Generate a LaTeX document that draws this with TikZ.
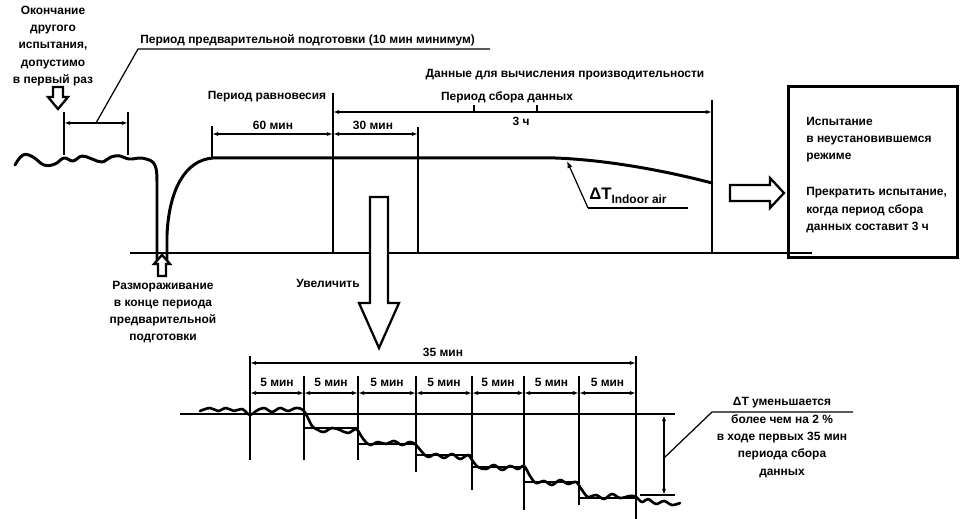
\documentclass[tikz,border=0pt]{standalone}
\usepackage{fontspec}
\setmainfont{Liberation Sans}
\usetikzlibrary{arrows.meta, positioning, calc}

\tikzset{
  curve/.style={line width=1.7pt, line join=round, line cap=round},
  aux/.style={line width=1.1pt},
  fine/.style={line width=0.7pt},
  dimarrow/.style={line width=0.7pt, {Latex[length=3.5pt,width=2.4pt]}-{Latex[length=3.5pt,width=2.4pt]}},
  lbl/.style={font=\fontsize{6.8}{8.4}\selectfont\bfseries, inner sep=0pt, align=center},
  hollow/.style={line width=1.3pt, fill=white, line join=miter}
}

\begin{document}
\begin{tikzpicture}[x=0.02cm, y=-0.02cm]
  \useasboundingbox (0,0) rectangle (968,519);

  % Верхний график
  \coordinate (base0) at (130,253);
  \coordinate (base1) at (812,253);
  \draw[aux] (base0) -- (base1);
  \draw[curve] plot[smooth, tension=0.7] coordinates {(15,165) (23,155) (33,157) (44,165) (55,164) (64,158) (73,161) (82,156) (92,159) (102,162) (111,157) (120,156) (129,159) (140,158) (146,159)}
    .. controls (156,161) and (157,168) .. (157,182) -- (157,262);
  \draw[curve] (167,262) -- (167,235) .. controls (169,190) and (185,160) .. (213,158)
    -- (555,158) .. controls (610,160) and (670,172) .. (712,183);

  % Вертикали
  \coordinate (pre0) at (64,123);
  \coordinate (pre1) at (128,123);
  \coordinate (eq0) at (212,134);
  \coordinate (dc0) at (333,134);
  \coordinate (dc1) at (418,134);
  \coordinate (dcA) at (333,112);
  \coordinate (dcB) at (712,112);
  \draw[aux] (64,112) -- (64,155);
  \draw[aux] (128,112) -- (128,155);
  \draw[aux] (212,126) -- (212,158);
  \draw[aux] (333,93) -- (333,253);
  \draw[aux] (418,127) -- (418,253);
  \draw[aux] (712,100) -- (712,253);

  % Размеры
  \draw[dimarrow] (pre0) -- (pre1);
  \draw[dimarrow] (eq0) -- (dc0);
  \draw[dimarrow] (dc0) -- (dc1);
  \draw[dimarrow] (dcA) -- (dcB);
  \draw[fine] (474,105) -- (474,112);
  \draw[fine] (537,105) -- (537,112);

  % Подписи
  \node[lbl] (start) at (53,46) {Окончание\\[1.4pt]другого\\[1.4pt]испытания,\\[1.4pt]допустимо\\[1.4pt]в первый раз};
  \draw[hollow] (53,87) -- (63,87) -- (63,97) -- (68,97) -- (58,109) -- (48,97) -- (53,97) -- cycle;
  \node[lbl, anchor=south west] (precond) at (140,46) {Период предварительной подготовки (10 мин минимум)};
  \coordinate (precondA) at (138,49);
  \coordinate (precondB) at (490,49);
  \draw[fine] ($(pre0)!0.5!(pre1)$) -- (precondA) -- (precondB);
  \node[lbl] (calc) at (565,75) {Данные для вычисления производительности};
  \node[lbl] (equil) at (267,97) {Период равновесия};
  \node[lbl] (collect) at (507,97) {Период сбора данных};
  \node[lbl] (t3h) at (521,121) {3 ч};
  \node[lbl] (t60) at (273,125) {60 мин};
  \node[lbl] (t30) at (373,125) {30 мин};

  % ΔT
  \coordinate (dTtip) at (567,161);
  \coordinate (dTa) at (588,208);
  \coordinate (dTb) at (688,208);
  \draw[fine, -{Latex[length=4pt,width=3pt]}] (dTa) -- (dTtip);
  \draw[fine] (dTa) -- (dTb);
  \node[font=\fontsize{9.5}{10}\selectfont\bfseries, anchor=south west, inner sep=0pt] (dT) at (589,204) {ΔT\raisebox{-2.5pt}{\fontsize{6.8}{8}\selectfont Indoor air}};

  % Разморозка
  \draw[hollow] (162,255) -- (170,264) -- (166,264) -- (166,276) -- (158,276) -- (158,264) -- (154,264) -- cycle;
  \node[lbl] (defrost) at (163,312) {Размораживание\\[1.4pt]в конце периода\\[1.4pt]предварительной\\[1.4pt]подготовки};

  % Правая рамка
  \draw[hollow] (730,185) -- (770,185) -- (770,178) -- (784,193) -- (770,208) -- (770,201) -- (730,201) -- cycle;
  \node[draw, line width=1.7pt, minimum width=3.4cm, minimum height=3.44cm, inner sep=0pt] (result) at (873,172) {};
  \node[lbl, align=left, anchor=north west] (resulttxt) at (806,117) {Испытание\\[1.4pt]в неустановившемся\\[1.4pt]режиме\\[12pt]Прекратить испытание,\\[1.4pt]когда период сбора\\[1.4pt]данных составит 3 ч};

  % Увеличение
  \node[lbl] (zoom) at (328,283) {Увеличить};
  \draw[hollow] (370,197) -- (388,197) -- (388,303) -- (399,303) -- (379,348) -- (359,303) -- (370,303) -- cycle;

  % Нижний график
  \draw[aux] (180,414) -- (675,414);
  \foreach \x/\ya/\yb in {250/356/460, 304/376/460, 358/376/460, 416/376/472, 472/376/490, 524/376/510, 579/376/505, 636/356/519}
    \draw[aux] (\x,\ya) -- (\x,\yb);
  \coordinate (z0) at (250,363);
  \coordinate (z1) at (636,363);
  \draw[dimarrow] (z0) -- (z1);
  \node[lbl] (t35) at (443,352) {35 мин};
  \foreach \xa/\xb in {250/304, 304/358, 358/416, 416/472, 472/524, 524/579, 579/636} {
    \draw[dimarrow] (\xa,393) -- (\xb,393);
    \node[lbl] at ({(\xa+\xb)/2},382) {5 мин};
  }
  % Средние по интервалам
  \foreach \xa/\xb/\y in {304/358/428, 358/416/444, 416/472/455, 472/524/467, 524/579/482, 579/636/498}
    \draw[fine] (\xa,\y) -- (\xb,\y);
  \draw[curve, line width=1.5pt] plot[smooth, tension=0.6] coordinates {(200,411) (210,408) (218,411) (226,408) (234,411) (242,409) (250,415) (256,411) (264,408) (272,412) (280,408) (288,411) (296,408) (303,410)
    (308,418) (312,426) (318,430) (324,432) (332,428) (340,430) (348,433) (356,429)
    (360,434) (364,440) (370,445) (378,442) (386,444) (394,441) (402,445) (410,442) (416,445)
    (422,452) (428,457) (436,454) (444,458) (452,454) (460,459) (468,455) (472,460)
    (478,467) (486,469) (494,465) (502,470) (510,466) (518,469) (524,466)
    (530,476) (536,483) (544,481) (552,485) (560,480) (568,484) (576,482)
    (582,490) (588,497) (596,495) (604,499) (612,494) (620,498) (630,496) (636,497)
    (642,502) (648,499) (656,504) (664,501) (672,505) (680,503)};

  % ΔT уменьшается
  \coordinate (dz0) at (664,415);
  \coordinate (dz1) at (664,495);
  \draw[aux] (640,495) -- (675,495);
  \draw[dimarrow] (dz0) -- (dz1);
  \coordinate (noteA) at (712,412);
  \coordinate (noteB) at (853,412);
  \draw[fine] (664,458) -- (noteA) -- (noteB);
  \node[lbl] (drop) at (782,403) {ΔT уменьшается};
  \node[lbl] (droptxt) at (782,446) {более чем на 2 \%\\[1.4pt]в ходе первых 35 мин\\[1.4pt]периода сбора\\[1.4pt]данных};
\end{tikzpicture}
\end{document}
